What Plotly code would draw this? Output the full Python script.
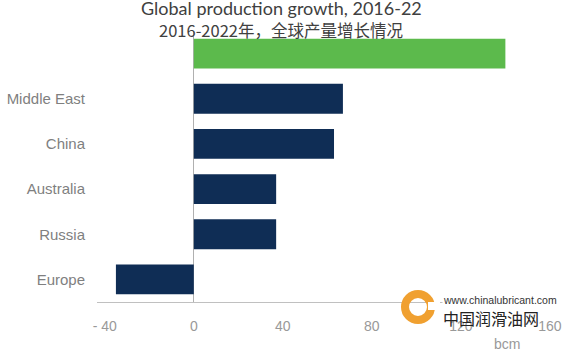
import plotly.graph_objects as go

categories = ["", "Middle East", "China", "Australia", "Russia", "Europe"]
values = [140, 67, 63, 37, 37, -35]
bar_colors = ["#5cba4c", "#0f2d55", "#0f2d55", "#0f2d55", "#0f2d55", "#0f2d55"]
x_ticks = [-40, 0, 40, 80, 120, 160]
x_tick_text = ["- 40", "0", "40", "80", "120", "160"]

pos = list(range(len(categories)))

L, R, T, B = 97, 16, 31, 52
W, H = 567, 354
PW, PH = W - L - R, H - T - B

def px(x):
    return (x - L) / PW

def py(y):
    return (H - B - y) / PH

fig = go.Figure()
fig.add_trace(go.Bar(
    x=values, y=pos, orientation="h",
    marker=dict(color=bar_colors, line=dict(width=0)),
    width=0.66,
))

fig.update_layout(
    width=W, height=H,
    margin=dict(l=L, r=R, t=T, b=B),
    paper_bgcolor="white", plot_bgcolor="white",
    showlegend=False,
    font=dict(family="Liberation Sans, Arial", color="#8a8a8a", size=14),
    xaxis=dict(range=[-43.5, 160.5], tickvals=x_ticks, ticktext=x_tick_text, automargin=False,
               showgrid=False, zeroline=True, zerolinecolor="#b0b0b0", zerolinewidth=1,
               showline=True, linecolor="#c0c0c0", linewidth=1,
               ticks="", tickfont=dict(size=14, color="#999999"), ticklabelstandoff=11),
    yaxis=dict(tickvals=pos, ticktext=categories, range=[5.5, -0.5], automargin=False,
               showgrid=False, zeroline=False, showline=False, ticks="",
               tickfont=dict(size=15, color="#7f7f7f"), ticklabelstandoff=11),
)

fig.add_annotation(text="Global production growth, 2016-22", xref="paper", yref="paper",
                   x=px(281), y=py(8), xanchor="center", yanchor="middle",
                   showarrow=False, font=dict(family="Lato, DejaVu Sans", size=18, color="#404040"))
fig.add_annotation(text="2016-2022年，全球产量增长情况", xref="paper", yref="paper",
                   x=px(281), y=py(30), xanchor="center", yanchor="middle",
                   showarrow=False, font=dict(family="Noto Sans CJK SC", size=16.5, color="#404040"))
fig.add_annotation(text="bcm", xref="paper", yref="paper",
                   x=px(507), y=py(344), xanchor="center", yanchor="middle",
                   showarrow=False, font=dict(size=14, color="#999999"))

# watermark
fig.add_shape(type="circle", xref="paper", yref="paper",
              x0=px(405), x1=px(431), y0=py(320), y1=py(294),
              line=dict(color="#f0a030", width=8), fillcolor="rgba(0,0,0,0)")
fig.add_shape(type="rect", xref="paper", yref="paper",
              x0=px(428), x1=px(440), y0=py(310), y1=py(302),
              line=dict(width=0), fillcolor="white")
fig.add_annotation(text="www.chinalubricant.com", xref="paper", yref="paper",
                   x=px(442), y=py(300), xanchor="left", yanchor="middle",
                   showarrow=False, bgcolor="white", borderpad=0,
                   font=dict(family="Liberation Sans", size=10.5, color="#333333"))
fig.add_annotation(text="中国润滑油网", xref="paper", yref="paper",
                   x=px(441), y=py(318), xanchor="left", yanchor="middle",
                   showarrow=False,
                   font=dict(family="Noto Sans CJK SC", size=16, color="#222222"))

fig.write_html("out.html")
